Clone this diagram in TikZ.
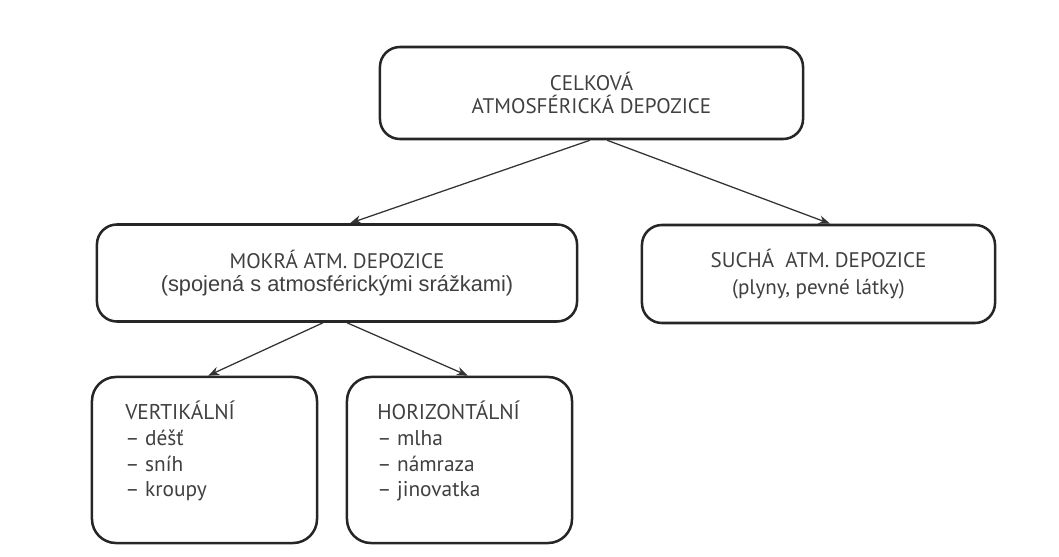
\documentclass[tikz,border=0pt]{standalone}
\usepackage{fontspec}
\setmainfont{PT Sans}
\newfontfamily\arialfont{Liberation Sans}
\usetikzlibrary{arrows.meta}

\tikzset{
  depbox/.style={draw=black!85, line width=1.8pt, rounded corners=0.5cm,
    align=center, text=black!75, font=\fontsize{15}{16}\selectfont},
  listbox/.style={draw=black!85, line width=1.8pt, rounded corners=0.6cm,
    minimum width=5.625cm, minimum height=4.15cm},
  listtext/.style={align=left, text=black!75, inner sep=0pt,
    font=\fontsize{15.2}{18.2}\selectfont},
  deparrow/.style={-{Stealth[length=8pt,width=6pt,inset=2.5pt]},
    line width=0.9pt, draw=black!80}
}

\begin{document}
\begin{tikzpicture}[x=0.025cm, y=-0.025cm]
  \useasboundingbox (0,0) rectangle (1059,557);

  % Define node positions
  \node[depbox, minimum width=10.575cm, minimum height=2.3cm] (total) at (591.5,93)
    {CELKOVÁ\\ATMOSFÉRICKÁ DEPOZICE};
  \node[depbox, minimum width=12cm, minimum height=2.425cm] (wet) at (337,273)
    {MOKRÁ ATM. DEPOZICE\\{\arialfont\fontsize{15.5}{16}\selectfont(spojená s atmosférickými srážkami)}};
  \node[depbox, minimum width=8.825cm, minimum height=2.45cm] (dry) at (818.5,274)
    {SUCHÁ \ ATM. DEPOZICE\\[3pt](plyny, pevné látky)};

  \node[listbox] (vert) at (204.5,460) {};
  \node[listbox] (horiz) at (459.5,460) {};
  \node[listtext, anchor=north west] (vertlist) at (125,401)
    {VERTIKÁLNÍ\\– déšť\\– sníh\\– kroupy};
  \node[listtext, anchor=north west] (horizlist) at (377,401)
    {HORIZONTÁLNÍ\\– mlha\\– námraza\\– jinovatka};

  % Draw arrows
  \draw[deparrow] ([xshift=-0.04cm]total.south) -- ([xshift=0.325cm]wet.north);
  \draw[deparrow] ([xshift=0.39cm]total.south) -- ([xshift=0.29cm]dry.north);
  \draw[deparrow] ([xshift=-0.35cm]wet.south) -- ([xshift=0.09cm]vert.north);
  \draw[deparrow] ([xshift=0.25cm]wet.south) -- ([xshift=0.21cm]horiz.north);
\end{tikzpicture}
\end{document}
